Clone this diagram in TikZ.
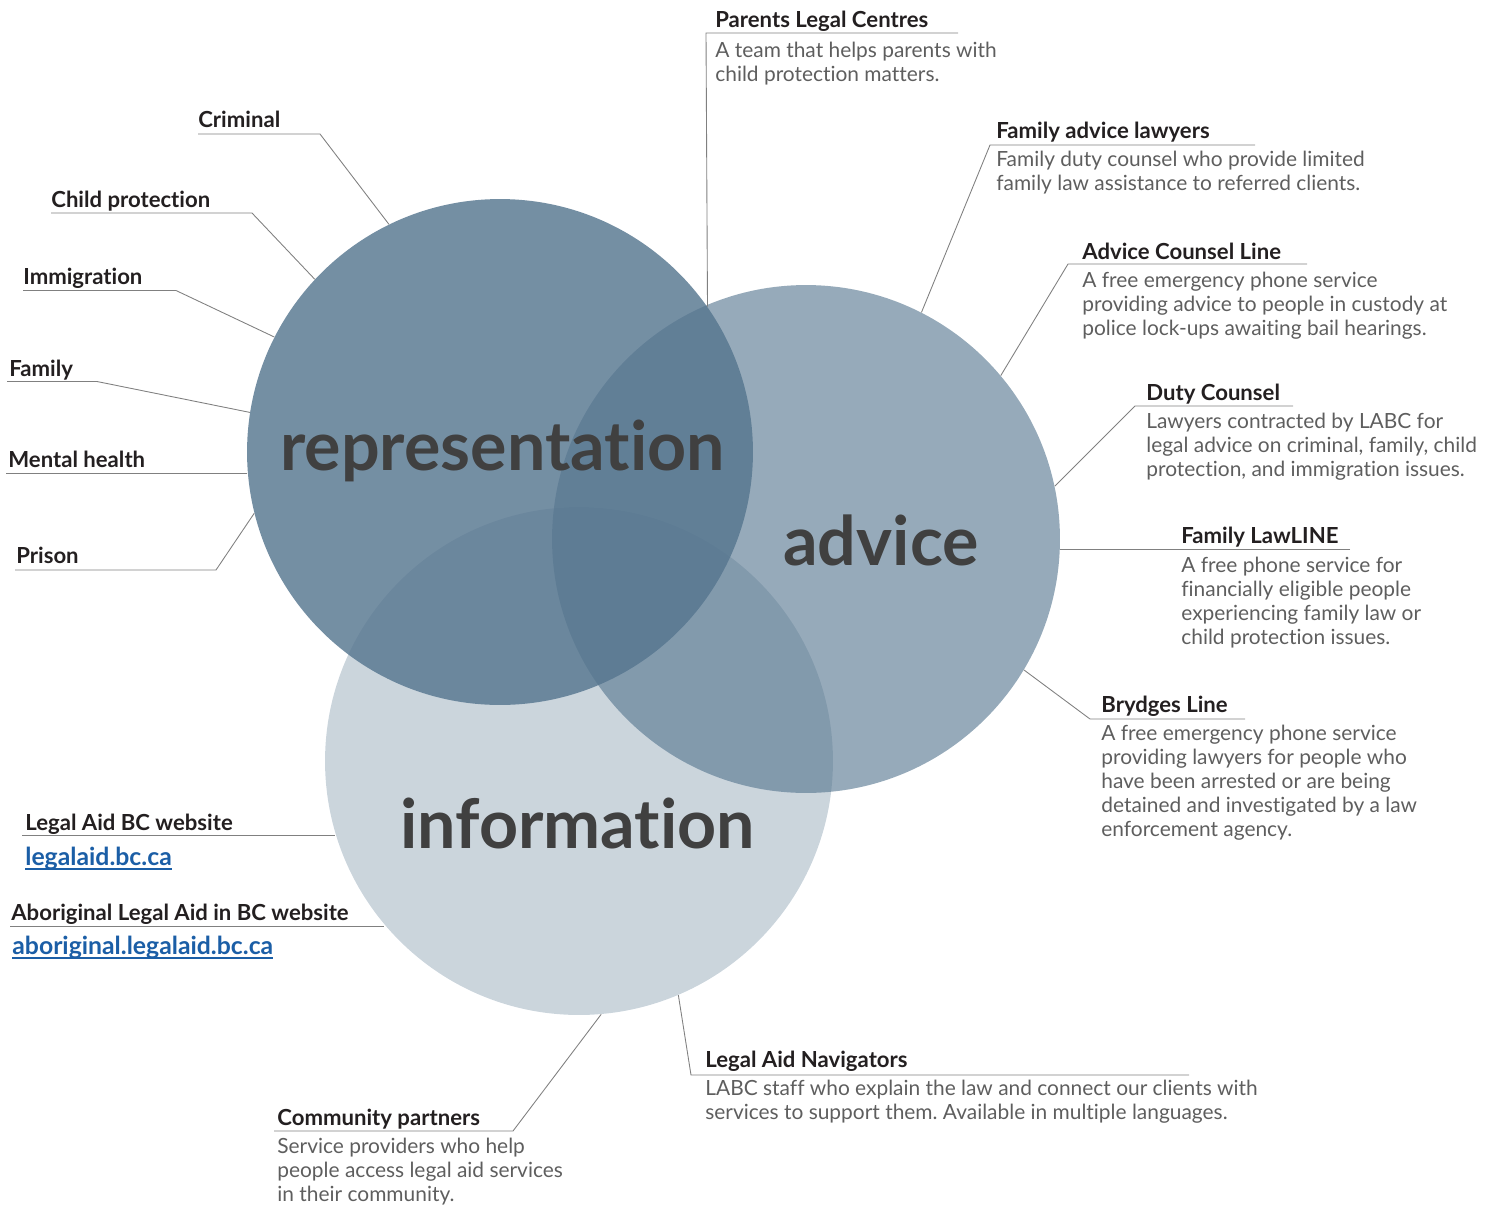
\documentclass[tikz,border=0pt]{standalone}
\usepackage{fontspec}
\setmainfont{Lato}[Ligatures=NoCommon, Contextuals=NoAlternate]
\frenchspacing
\usetikzlibrary{positioning}
\definecolor{venn}{HTML}{56768F}
\definecolor{leadgray}{HTML}{808080}
\definecolor{headtext}{HTML}{231F20}
\definecolor{bodytext}{HTML}{5E5E5E}
\definecolor{wordtext}{HTML}{404040}
\definecolor{webblue}{HTML}{1B5EA6}

\begin{document}
\begin{tikzpicture}[x=0.02cm, y=-0.02cm,
    head/.style={anchor=base west, inner sep=0pt, text=headtext, font=\fontsize{12.6}{15}\selectfont\bfseries},
    desc/.style={anchor=north west, inner sep=0pt, align=left, text=bodytext, font=\fontsize{11.9}{13.7}\selectfont},
    web/.style={anchor=base west, inner sep=0pt, text=webblue, font=\fontsize{14.1}{16}\selectfont\bfseries},
    big/.style={anchor=base west, inner sep=0pt, text=wordtext, font=\fontsize{38.8}{40}\selectfont\bfseries},
    lead/.style={draw=leadgray, line width=0.5pt},
    disc/.style={circle, inner sep=0pt, fill=venn}]
    \useasboundingbox (0,0) rectangle (1500,1207);
    \node[disc, minimum size=10.16cm, fill opacity=.31] (info) at (579,761) {};
    \node[disc, minimum size=10.16cm, fill opacity=.62] (adv) at (806,539) {};
    \node[disc, minimum size=10.12cm, fill opacity=.82] (rep) at (500,452) {};
    \node[big] (wrep) at (280,470) {representation};
    \node[big] (wadv) at (783,565) {advice};
    \node[big] (winfo) at (400,848) {information};

    \node[head] (crim) at (198,127) {Criminal};
    \node[head] (cprot) at (51,207) {Child protection};
    \node[head] (immig) at (23,284) {Immigration};
    \node[head] (fam) at (9,376) {Family};
    \node[head] (mental) at (8,467) {Mental health};
    \node[head] (prison) at (16,563) {Prison};
    \coordinate (crim-a) at (198,134); \coordinate (crim-b) at (320,134);
    \coordinate (cprot-a) at (51,213); \coordinate (cprot-b) at (252,213);
    \coordinate (immig-a) at (23,290.5); \coordinate (immig-b) at (176,290.5);
    \coordinate (fam-a) at (7,381.5); \coordinate (fam-b) at (97,381.5);
    \coordinate (mental-a) at (6,473.5);
    \coordinate (prison-a) at (15,570); \coordinate (prison-b) at (216,570);
    \draw[lead] (crim-a) -- (crim-b) -- (rep.116.8);
    \draw[lead] (cprot-a) -- (cprot-b) -- (rep.137.4);
    \draw[lead] (immig-a) -- (immig-b) -- (rep.153.5);
    \draw[lead] (fam-a) -- (fam-b) -- (rep.171.2);
    \draw[lead] (mental-a) -- (rep.184.9 |- mental-a);
    \draw[lead] (prison-a) -- (prison-b) -- (rep.194.3);

    \node[head] (plc) at (715,27) {Parents Legal Centres};
    \node[desc] (plc-d) at (715,41.5) {A team that helps parents with\\child protection matters.};
    \node[head] (fal) at (996,138) {Family advice lawyers};
    \node[desc] (fal-d) at (996,150.5) {Family duty counsel who provide limited\\family law assistance to referred clients.};
    \node[head] (acl) at (1082,259) {Advice Counsel Line};
    \node[desc] (acl-d) at (1082,271.5) {A free emergency phone service\\providing advice to people in custody at\\police lock-ups awaiting bail hearings.};
    \node[head] (duty) at (1146,400) {Duty Counsel};
    \node[desc] (duty-d) at (1146,412.5) {Lawyers contracted by LABC for\\legal advice on criminal, family, child\\protection, and immigration issues.};
    \node[head] (flaw) at (1181,543) {Family LawLINE};
    \node[desc] (flaw-d) at (1181,556.5) {A free phone service for\\financially eligible people\\experiencing family law or\\child protection issues.};
    \node[head] (brydges) at (1101,712) {Brydges Line};
    \node[desc] (brydges-d) at (1101,724.5) {A free emergency phone service\\providing lawyers for people who\\have been arrested or are being\\detained and investigated by a law\\enforcement agency.};
    \coordinate (plc-a) at (958,33); \coordinate (plc-b) at (706,33);
    \coordinate (fal-a) at (1255,145); \coordinate (fal-b) at (990,145);
    \coordinate (acl-a) at (1307,264); \coordinate (acl-b) at (1068,264);
    \coordinate (duty-a) at (1293,406); \coordinate (duty-b) at (1135,406);
    \coordinate (flaw-a) at (1350,549);
    \coordinate (brydges-a) at (1245,719); \coordinate (brydges-b) at (1090,719);
    \draw[lead] (plc-a) -- (plc-b) -- (rep.35.7);
    \draw[lead] (fal-a) -- (fal-b) -- (adv.63.1);
    \draw[lead] (acl-a) -- (acl-b) -- (adv.40.1);
    \draw[lead] (duty-a) -- (duty-b) -- (adv.12.2);
    \draw[lead] (flaw-a) -- (adv.-2.3 |- flaw-a);
    \draw[lead] (brydges-a) -- (brydges-b) -- (adv.-31);

    \node[head] (labc) at (25,830) {Legal Aid BC website};
    \node[web] (labc-l) at (25,865) {legalaid.bc.ca};
    \node[head] (alabc) at (11,920) {Aboriginal Legal Aid in BC website};
    \node[web] (alabc-l) at (12,954) {aboriginal.legalaid.bc.ca};
    \draw[webblue, line width=0.8pt] ([yshift=-2.2pt]labc-l.base west) -- ([yshift=-2.2pt]labc-l.base east);
    \draw[webblue, line width=0.8pt] ([yshift=-2.2pt]alabc-l.base west) -- ([yshift=-2.2pt]alabc-l.base east);
    \node[head] (comm) at (277,1125) {Community partners};
    \node[desc] (comm-d) at (277,1137.5) {Service providers who help\\people access legal aid services\\in their community.};
    \node[head] (nav) at (705,1067) {Legal Aid Navigators};
    \node[desc] (nav-d) at (705,1079.5) {LABC staff who explain the law and connect our clients with\\services to support them. Available in multiple languages.};
    \coordinate (labc-a) at (22,835);
    \coordinate (alabc-a) at (10,926);
    \coordinate (comm-a) at (274,1131); \coordinate (comm-b) at (513,1131);
    \coordinate (nav-a) at (1189,1075); \coordinate (nav-b) at (691,1075);
    \draw[lead] (labc-a) -- (info.196.9 |- labc-a);
    \draw[lead] (alabc-a) -- (info.220.5 |- alabc-a);
    \draw[lead] (comm-a) -- (comm-b) -- (info.275.4);
    \draw[lead] (nav-a) -- (nav-b) -- (info.-67.7);
\end{tikzpicture}
\end{document}
